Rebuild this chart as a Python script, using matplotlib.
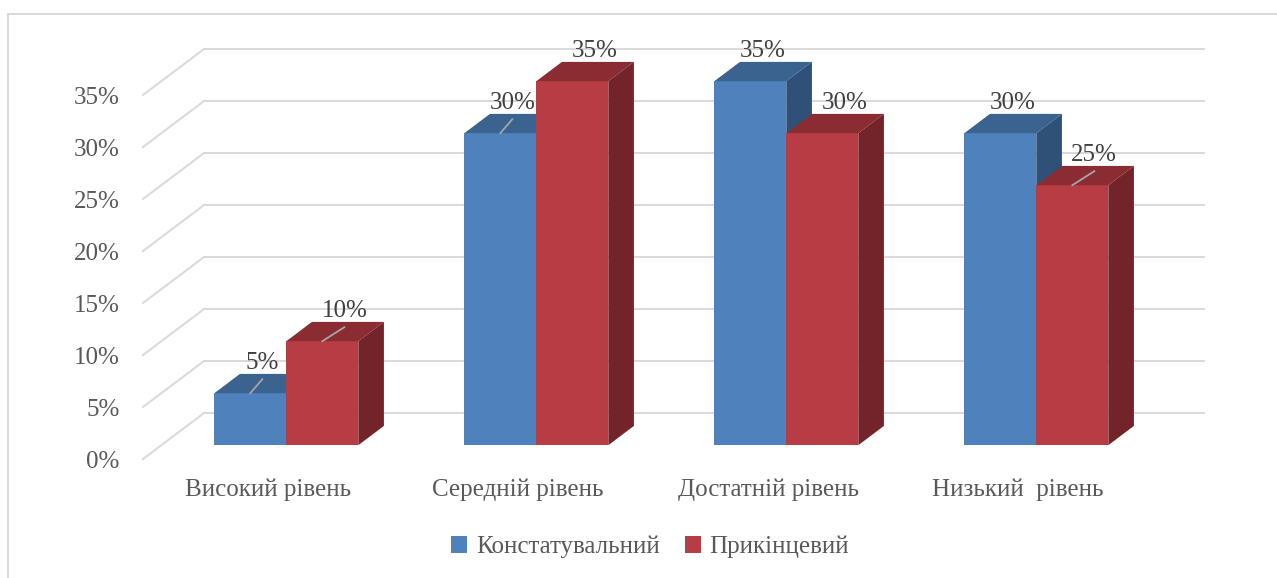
import matplotlib
matplotlib.use("Agg")
import matplotlib.pyplot as plt
from matplotlib.patches import Polygon
from matplotlib.lines import Line2D
from matplotlib.transforms import offset_copy

# ---- data ----
categories = ["Високий рівень", "Середній рівень", "Достатній рівень", "Низький  рівень"]
series_names = ["Констатувальний", "Прикінцевий"]
konst = [5, 30, 35, 30]
prykin = [10, 35, 30, 25]
yticks = [0, 5, 10, 15, 20, 25, 30, 35]
ytick_labels = ["0%", "5%", "10%", "15%", "20%", "25%", "30%", "35%"]

# ---- style ----
front_cols = ["#4F81BD", "#B83C44"]
top_cols = ["#3B6390", "#8B2C33"]
side_cols = ["#2F5077", "#73242A"]
leader = [[True, True], [True, False], [False, False], [False, True]]
label_dx_px = [12, 22]
grid_col = "#D9D9D9"
txt_col = "#595959"
FONT = ["Liberation Serif", "DejaVu Serif"]
FS = 18

W, H, DPI = 1277, 578, 100
fig = plt.figure(figsize=(W / DPI, H / DPI), dpi=DPI)

# 3D oblique parameters (data units)
DEPTH_X = 0.244      # full depth shift in category units
DEPTH_Y = 4.42       # full depth shift in percent units
BAR_D0, BAR_D1 = 0.30, 0.72
BAR_W = 0.288
YMAX = 35

# axes: data x=0 at px 143, y=0 at px 459 from top
px_per_x = 250.0
px_per_y = 10.4
xmax = 4 + DEPTH_X
ymax = YMAX + DEPTH_Y
left = 143 / W
bottom = (H - 459) / H
ax = fig.add_axes([left, bottom, xmax * px_per_x / W, ymax * px_per_y / H])
ax.set_xlim(0, xmax)
ax.set_ylim(0, ymax)
for s in ax.spines.values():
    s.set_visible(False)
ax.set_xticks([])
ax.set_yticks(yticks)
ax.set_yticklabels(ytick_labels, fontsize=FS, color=txt_col, family=FONT)
ax.tick_params(axis="y", length=0, pad=17)
ax.patch.set_visible(False)

# walls: diagonal (left wall) and back gridlines
for v in yticks:
    ax.add_line(Line2D([0, DEPTH_X], [v, v + DEPTH_Y], color=grid_col, lw=1.4, zorder=1, clip_on=False))
    ax.add_line(Line2D([DEPTH_X, 4 + DEPTH_X], [v + DEPTH_Y, v + DEPTH_Y], color=grid_col, lw=1.4, zorder=1, clip_on=False))

# bars
dx0, dy0 = BAR_D0 * DEPTH_X, BAR_D0 * DEPTH_Y
ddx, ddy = (BAR_D1 - BAR_D0) * DEPTH_X, (BAR_D1 - BAR_D0) * DEPTH_Y
z = 2
for i, cat in enumerate(categories):
    center = i + 0.5
    for s, vals in enumerate([konst, prykin]):
        v = vals[i]
        x0 = center - BAR_W + s * BAR_W + dx0
        x1 = x0 + BAR_W
        yb = dy0
        yt = dy0 + v
        front = Polygon([(x0, yb), (x1, yb), (x1, yt), (x0, yt)], closed=True,
                        facecolor=front_cols[s], edgecolor="none", zorder=z)
        top = Polygon([(x0, yt), (x1, yt), (x1 + ddx, yt + ddy), (x0 + ddx, yt + ddy)], closed=True,
                      facecolor=top_cols[s], edgecolor="none", zorder=z)
        side = Polygon([(x1, yb), (x1 + ddx, yb + ddy), (x1 + ddx, yt + ddy), (x1, yt)], closed=True,
                       facecolor=side_cols[s], edgecolor="none", zorder=z)
        for p in (front, top, side):
            ax.add_patch(p)
        z += 1
        # data label
        xc = (x0 + x1) / 2
        tr = offset_copy(ax.transData, fig=fig, x=label_dx_px[s] * 0.72, y=30 * 0.72, units="points")
        ax.text(xc, yt, f"{v}%", transform=tr, ha="center", va="center",
                fontsize=FS, color="#404040", family=FONT, zorder=50)
        if leader[i][s]:
            tr0 = offset_copy(ax.transData, fig=fig, x=0, y=0, units="points")
            tr1 = offset_copy(ax.transData, fig=fig, x=label_dx_px[s] * 0.72, y=14 * 0.72, units="points")
            disp0 = tr0.transform((xc, yt))
            disp1 = tr1.transform((xc, yt))
            fig.add_artist(Line2D([disp0[0] / W, disp1[0] / W], [disp0[1] / H, disp1[1] / H],
                                  transform=fig.transFigure, color="#A6A6A6", lw=1.3, zorder=60))

# category labels
for i, cat in enumerate(categories):
    ax.text(i + 0.5, 0, cat, transform=offset_copy(ax.transData, fig=fig, x=0, y=-31 * 0.72, units="points"),
            ha="center", va="center", fontsize=FS, color=txt_col, family=FONT)

# legend
handles = [Polygon([(0, 0)], facecolor=c, edgecolor="none") for c in front_cols]
leg = fig.legend(handles, series_names, loc="center", bbox_to_anchor=(650 / W, 1 - 547 / H),
                 ncol=2, frameon=False, prop={"family": FONT, "size": FS},
                 handlelength=0.65, handleheight=0.65, handletextpad=0.35, columnspacing=1.0)
for t in leg.get_texts():
    t.set_color(txt_col)

# chart area border (top and left only visible)
fig.add_artist(Line2D([7.5 / W, 7.5 / W], [0, 1 - 14 / H], transform=fig.transFigure, color=grid_col, lw=1.4))
fig.add_artist(Line2D([7.5 / W, 1], [1 - 14 / H, 1 - 14 / H], transform=fig.transFigure, color=grid_col, lw=1.4))

fig.savefig("out.png", dpi=DPI)
